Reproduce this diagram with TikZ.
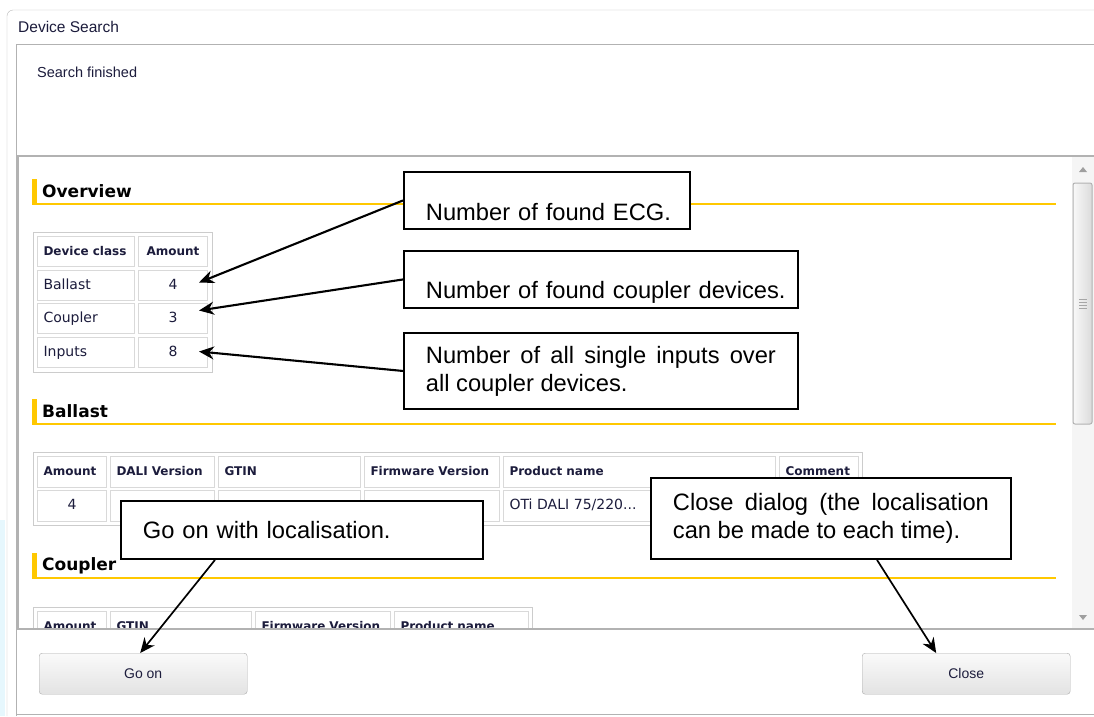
\documentclass[tikz,border=0pt]{standalone}
\usepackage{fontspec}
\setmainfont{Liberation Sans}
\newfontfamily\verdfont{DejaVu Sans}
\usetikzlibrary{arrows.meta}
\definecolor{gold}{HTML}{FFC800}
\definecolor{uitext}{HTML}{1C1C3C}
\tolerance=9999
\hyphenpenalty=10000

\begin{document}
\begin{tikzpicture}[
  x=1pt,y=-1pt,
  winline/.style={draw=gray!60,line width=1pt},
  paneline/.style={draw=gray!60,line width=1.5pt},
  cell/.style={draw=gray!30,line width=1pt,anchor=north west,inner xsep=6pt,inner ysep=0pt,minimum height=30pt,text height=10pt,text depth=3pt,font=\verdfont\fontsize{14}{16}\selectfont,text=uitext},
  hcell/.style={cell,font=\verdfont\bfseries\fontsize{12}{14}\selectfont},
  heading/.style={anchor=west,inner sep=0pt,font=\verdfont\bfseries\fontsize{17}{20}\selectfont,text=black},
  callout/.style={draw=black,fill=white,line width=1.9pt,anchor=north west,inner xsep=22pt,inner ysep=2pt,align=left,font=\fontsize{23.7}{28}\selectfont},
  pointer/.style={line width=2.1pt,-{Stealth[length=15pt,width=13pt]}},
  button/.style={draw=gray!65,rounded corners=3pt,top color=gray!4,bottom color=gray!22,anchor=north west,minimum width=208pt,minimum height=41pt,font=\fontsize{14}{16}\selectfont,text=uitext}
]

\def\tabx{37}
\def\scrx{1072}

\fill[white] (0,0) rectangle (1094,716);
\useasboundingbox (0,0) rectangle (1094,716);

\fill[cyan!10] (0,520) rectangle (5,716);
\draw[gray!55,rounded corners=6pt] (7,716) -- (7,10) -- (1094,10);
\draw[winline] (16,716) -- (16,44) -- (1094,44);
\draw[winline] (16,714) -- (1094,714);

\node[anchor=west,inner sep=0pt,font=\fontsize{15.5}{18}\selectfont,text=uitext] (title) at (18,27) {Device Search};
\node[anchor=west,inner sep=0pt,font=\fontsize{14.5}{17}\selectfont,text=uitext] (status) at (37,72) {Search finished};

\begin{scope}
\clip (18,157) rectangle (\scrx,628);

\foreach \name/\y in {Overview/179,Ballast/399,Coupler/553}{
  \fill[gold] (32,\y) rectangle (37,\y+25);
  \draw[gold,line width=1.2pt] (32,\y+25) -- (1056,\y+25);
  \node[heading] (h\name) at (42,\y+12.5) {\name};
}

\draw[gray!40] (33,232) rectangle (212,372);
\node[hcell,minimum width=97pt,text width=85pt,align=left] (hcls) at (\tabx,236) {Device class};
\node[hcell,minimum width=69pt] (hamt) at (138,236) {Amount};
\foreach \i/\y/\cls/\n in {1/270/Ballast/4,2/303/Coupler/3,3/337/Inputs/8}{
  \node[cell,minimum width=97pt,text width=85pt,align=left] (cls\i) at (\tabx,\y) {\cls};
  \node[cell,minimum width=69pt] (amt\i) at (138,\y) {\n};
}

\draw[gray!40] (33,452) rectangle (862,525);
\foreach \j/\x/\w/\h in {1/37/69/Amount,2/110/104/DALI Version,3/218/142/GTIN,4/364/135/Firmware Version,5/503/272/Product name,6/779/79/Comment}{
  \pgfmathsetmacro\tw{\w-12}
  \node[hcell,minimum width=\w pt,text width=\tw pt,align=left,minimum height=31pt] (bh\j) at (\x,456) {\mbox{\h}};
}
\node[cell,minimum width=69pt,minimum height=31pt] (bd1) at (\tabx,490) {4};
\foreach \j/\x/\w in {2/110/104,3/218/142,4/364/135,6/779/79}
  \node[cell,minimum width=\w pt,minimum height=31pt] (bd\j) at (\x,490) {};
\node[cell,minimum width=272pt,text width=260pt,align=left,minimum height=31pt] (bd5) at (503,490) {OTi DALI 75/220...};

\draw[gray!40] (33,607) rectangle (532,660);
\foreach \j/\x/\w/\h in {1/37/69/Amount,2/110/141/GTIN,3/255/135/Firmware Version,4/394/134/Product name}{
  \pgfmathsetmacro\tw{\w-12}
  \node[hcell,minimum width=\w pt,text width=\tw pt,align=left,minimum height=31pt] (ch\j) at (\x,611) {\mbox{\h}};
}
\end{scope}

\fill[gray!8] (\scrx,157) rectangle (1094,628);
\fill[gray!75] (1079,172) -- (1087,172) -- (1083,167) -- cycle;
\fill[gray!75] (1079,615) -- (1087,615) -- (1083,620) -- cycle;
\draw[gray!60,line width=1pt,rounded corners=2pt,left color=gray!5,right color=gray!28] (1073,183) rectangle (1092,424);
\foreach \gy in {299,302,305,308}
  \draw[gray!70] (1079,\gy) -- (1087,\gy);

\draw[paneline] (17,629) -- (1094,629);
\draw[paneline] (18,629) -- (18,156) -- (1094,156);

\node[button] (gobtn) at (39,653) {Go on};
\node[button] (closebtn) at (862,653) {Close};

\node[callout,text width=242pt,text height=47pt,text depth=6pt] (ecg) at (403,171) {\mbox{Number of found ECG.}};
\node[callout,text width=350pt,text height=46pt,text depth=7pt] (cplr) at (403,250) {\mbox{Number of found coupler devices.}};
\node[callout,text width=350pt,align=justify,minimum height=76pt] (inpt) at (403,332) {Number of all single inputs over\linebreak all coupler devices.};
\node[callout,text width=318pt,minimum height=58pt] (gonote) at (120,500) {Go on with localisation.};
\node[callout,text width=316pt,align=justify,minimum height=81pt] (closenote) at (650,477) {Close dialog (the localisation\linebreak can be made to each time).};

\draw[pointer] (ecg.west) -- ([xshift=-9pt,yshift=3pt]amt1.east);
\draw[pointer] (cplr.west) -- ([xshift=-9pt,yshift=8pt]amt2.east);
\draw[pointer] (inpt.west) -- ([xshift=-9pt,yshift=1pt]amt3.east);
\draw[pointer,line width=1.7pt] ([xshift=95pt]gonote.south west) -- ([xshift=-3pt]gobtn.north);
\draw[pointer,line width=1.7pt] ([xshift=227pt]closenote.south west) -- ([xshift=-30pt]closebtn.north);

\end{tikzpicture}
\end{document}
